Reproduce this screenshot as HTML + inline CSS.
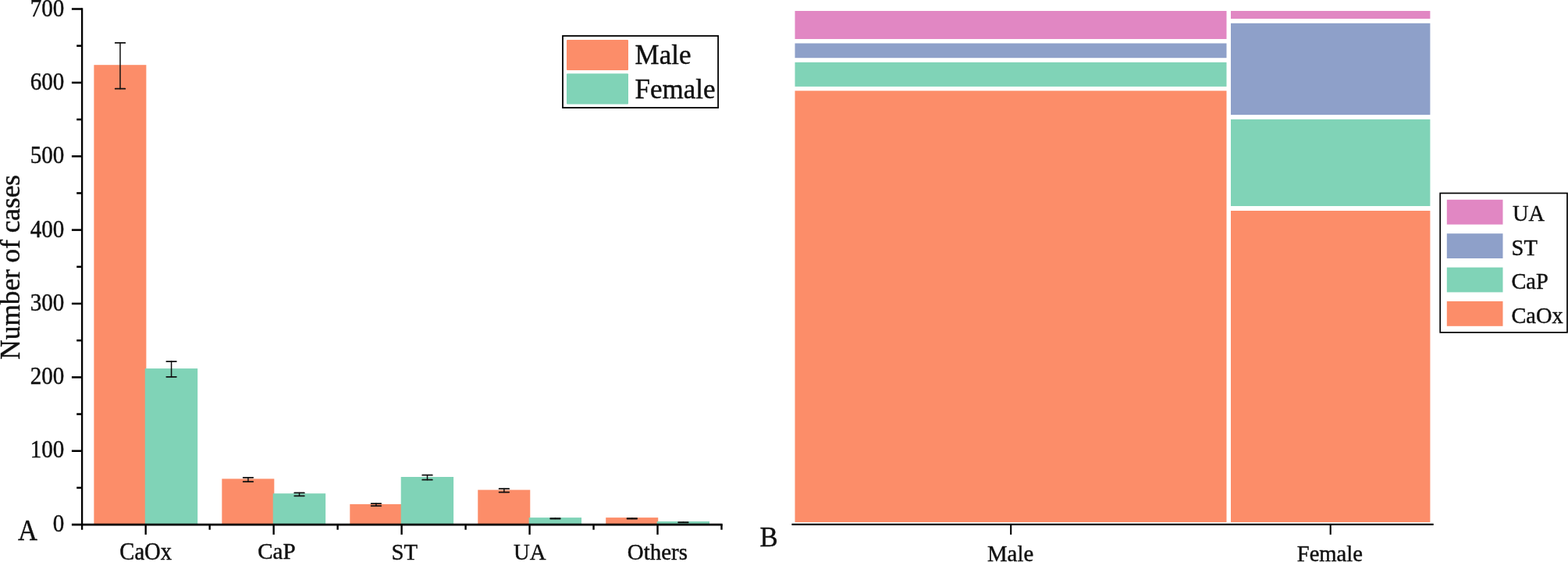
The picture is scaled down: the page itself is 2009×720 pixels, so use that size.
<!DOCTYPE html>
<html lang="en"><head><meta charset="utf-8"><title>Number of cases by stone type and sex</title>
<style>html,body{margin:0;padding:0;background:#fff;}body{width:2009px;height:720px;overflow:hidden;}svg{display:block;}text{font-family:"Liberation Serif", "Times New Roman", serif;fill:#111;}</style>
</head><body>
<svg width="2009" height="720" viewBox="0 0 2009 720">
<rect x="0" y="0" width="2009" height="720" fill="#fff"/>
<g shape-rendering="auto">
<rect x="120.38" y="83.20" width="67.00" height="588.90" fill="#FC8D69"/>
<rect x="185.78" y="472.10" width="67.40" height="200.00" fill="#80D3B7"/>
<rect x="284.34" y="613.40" width="67.00" height="58.70" fill="#FC8D69"/>
<rect x="349.74" y="632.20" width="67.40" height="39.90" fill="#80D3B7"/>
<rect x="448.30" y="645.90" width="67.00" height="26.20" fill="#FC8D69"/>
<rect x="513.70" y="611.00" width="67.40" height="61.10" fill="#80D3B7"/>
<rect x="612.26" y="627.60" width="67.00" height="44.50" fill="#FC8D69"/>
<rect x="677.66" y="663.10" width="67.40" height="9.00" fill="#80D3B7"/>
<rect x="776.22" y="663.10" width="67.00" height="9.00" fill="#FC8D69"/>
<rect x="841.62" y="668.00" width="67.40" height="4.10" fill="#80D3B7"/>
</g>
<g stroke="#111" stroke-width="1.9" stroke-linecap="round" fill="none">
<path stroke-width="1.75" d="M147.68 54.90H160.28M147.68 113.70H160.28"/><path stroke-width="1.5" d="M153.98 54.90V113.70"/>
<path stroke-width="1.75" d="M213.28 463.00H225.88M213.28 482.80H225.88"/><path stroke-width="1.5" d="M219.58 463.00V482.80"/>
<path stroke-width="1.75" d="M311.64 611.80H324.24M311.64 617.10H324.24"/><path stroke-width="1.5" d="M317.94 611.80V617.10"/>
<path stroke-width="1.75" d="M377.24 631.40H389.84M377.24 635.30H389.84"/><path stroke-width="1.5" d="M383.54 631.40V635.30"/>
<path stroke-width="1.75" d="M475.60 645.00H488.20M475.60 648.10H488.20"/><path stroke-width="1.5" d="M481.90 645.00V648.10"/>
<path stroke-width="1.75" d="M541.20 608.70H553.80M541.20 614.70H553.80"/><path stroke-width="1.5" d="M547.50 608.70V614.70"/>
<path stroke-width="1.75" d="M639.56 626.20H652.16M639.56 630.60H652.16"/><path stroke-width="1.5" d="M645.86 626.20V630.60"/>
<path stroke-width="1.75" d="M705.16 664.00H717.76M705.16 664.50H717.76"/><path stroke-width="1.5" d="M711.46 664.00V664.50"/>
<path stroke-width="1.75" d="M803.52 664.00H816.12M803.52 664.50H816.12"/><path stroke-width="1.5" d="M809.82 664.00V664.50"/>
<path stroke-width="1.75" d="M869.12 669.00H881.72M869.12 669.30H881.72"/><path stroke-width="1.5" d="M875.42 669.00V669.30"/>
</g>
<g stroke="#000" fill="none">
<path stroke-width="2.35" d="M105.10 10.23V678.70"/>
<path stroke-width="2.55" d="M91.90 672.10H925.68"/>
<path stroke-width="2.55" d="M91.90 577.73H105.10"/>
<path stroke-width="2.55" d="M91.90 483.36H105.10"/>
<path stroke-width="2.55" d="M91.90 388.99H105.10"/>
<path stroke-width="2.55" d="M91.90 294.62H105.10"/>
<path stroke-width="2.55" d="M91.90 200.25H105.10"/>
<path stroke-width="2.55" d="M91.90 105.88H105.10"/>
<path stroke-width="2.55" d="M91.90 11.51H105.10"/>
<path stroke-width="2.55" d="M98.20 624.91H105.10"/>
<path stroke-width="2.55" d="M98.20 530.55H105.10"/>
<path stroke-width="2.55" d="M98.20 436.18H105.10"/>
<path stroke-width="2.55" d="M98.20 341.81H105.10"/>
<path stroke-width="2.55" d="M98.20 247.44H105.10"/>
<path stroke-width="2.55" d="M98.20 153.06H105.10"/>
<path stroke-width="2.55" d="M98.20 58.69H105.10"/>
<path stroke-width="2.35" d="M186.68 672.10V684.90"/>
<path stroke-width="2.35" d="M268.66 672.10V678.70"/>
<path stroke-width="2.35" d="M350.64 672.10V684.90"/>
<path stroke-width="2.35" d="M432.62 672.10V678.70"/>
<path stroke-width="2.35" d="M514.60 672.10V684.90"/>
<path stroke-width="2.35" d="M596.58 672.10V678.70"/>
<path stroke-width="2.35" d="M678.56 672.10V684.90"/>
<path stroke-width="2.35" d="M760.54 672.10V678.70"/>
<path stroke-width="2.35" d="M842.52 672.10V684.90"/>
<path stroke-width="2.35" d="M924.50 672.10V678.70"/>
</g>
<text transform="translate(82.40 680.60) scale(0.9850 1.0500)" font-size="29.50px" text-anchor="end" stroke="#111" stroke-width="0.45" stroke-linejoin="round">0</text>
<text transform="translate(82.40 586.35) scale(0.9850 1.0500)" font-size="29.50px" text-anchor="end" stroke="#111" stroke-width="0.45" stroke-linejoin="round">100</text>
<text transform="translate(82.40 492.10) scale(0.9850 1.0500)" font-size="29.50px" text-anchor="end" stroke="#111" stroke-width="0.45" stroke-linejoin="round">200</text>
<text transform="translate(82.40 397.85) scale(0.9850 1.0500)" font-size="29.50px" text-anchor="end" stroke="#111" stroke-width="0.45" stroke-linejoin="round">300</text>
<text transform="translate(82.40 303.60) scale(0.9850 1.0500)" font-size="29.50px" text-anchor="end" stroke="#111" stroke-width="0.45" stroke-linejoin="round">400</text>
<text transform="translate(82.40 209.35) scale(0.9850 1.0500)" font-size="29.50px" text-anchor="end" stroke="#111" stroke-width="0.45" stroke-linejoin="round">500</text>
<text transform="translate(82.40 115.10) scale(0.9850 1.0500)" font-size="29.50px" text-anchor="end" stroke="#111" stroke-width="0.45" stroke-linejoin="round">600</text>
<text transform="translate(82.40 20.85) scale(0.9850 1.0500)" font-size="29.50px" text-anchor="end" stroke="#111" stroke-width="0.45" stroke-linejoin="round">700</text>
<text transform="translate(186.68 716.60) scale(0.9700 1.0400)" font-size="29.50px" text-anchor="middle" stroke="#111" stroke-width="0.45" stroke-linejoin="round">CaOx</text>
<text transform="translate(354.44 716.40) scale(0.9870 1.0000)" font-size="29.50px" text-anchor="middle" stroke="#111" stroke-width="0.45" stroke-linejoin="round">CaP</text>
<text transform="translate(518.30 716.80) scale(0.9750 1.0200)" font-size="29.50px" text-anchor="middle" stroke="#111" stroke-width="0.45" stroke-linejoin="round">ST</text>
<text transform="translate(678.76 716.80) scale(0.9750 1.0200)" font-size="29.50px" text-anchor="middle" stroke="#111" stroke-width="0.45" stroke-linejoin="round">UA</text>
<text transform="translate(842.42 716.90) scale(0.9820 1.0200)" font-size="29.50px" text-anchor="middle" stroke="#111" stroke-width="0.45" stroke-linejoin="round">Others</text>
<text transform="translate(25.00 342.30) rotate(-90) scale(1.0070 1.0000)" font-size="35.00px" text-anchor="middle" stroke="#111" stroke-width="0.45" stroke-linejoin="round">Number of cases</text>
<text transform="translate(23.00 691.50) scale(1.0000 1.0750)" font-size="34.60px" text-anchor="start" stroke="#111" stroke-width="0.45" stroke-linejoin="round">A</text>
<rect x="721.0" y="46.0" width="199.1" height="92.0" fill="#fff" stroke="#000" stroke-width="1.8"/>
<rect x="726" y="51" width="79" height="39" rx="1" fill="#FC8D69"/>
<rect x="726" y="94.3" width="79" height="39.1" rx="1" fill="#80D3B7"/>
<text transform="translate(813.60 82.10) scale(1.0050 1.0250)" font-size="34.80px" text-anchor="start" stroke="#111" stroke-width="0.45" stroke-linejoin="round">Male</text>
<text transform="translate(813.50 125.55) scale(1.0050 1.0250)" font-size="34.80px" text-anchor="start" stroke="#111" stroke-width="0.45" stroke-linejoin="round">Female</text>
<rect x="1018.50" y="14.00" width="553.00" height="36.00" fill="#E187C3"/>
<rect x="1018.50" y="55.50" width="553.00" height="18.70" fill="#8EA0C9"/>
<rect x="1018.50" y="79.80" width="553.00" height="31.10" fill="#80D3B7"/>
<rect x="1018.50" y="116.30" width="553.00" height="552.70" fill="#FC8D69"/>
<rect x="1577.00" y="14.00" width="255.40" height="10.00" fill="#E187C3"/>
<rect x="1577.00" y="29.80" width="255.40" height="117.30" fill="#8EA0C9"/>
<rect x="1577.00" y="152.90" width="255.40" height="111.10" fill="#80D3B7"/>
<rect x="1577.00" y="270.00" width="255.40" height="399.00" fill="#FC8D69"/>
<g stroke="#000" stroke-width="2.1" fill="none">
<path d="M1014.4 671.9H1836.7"/>
<path d="M1295.2 671.9V684.9"/>
<path d="M1704.7 671.9V684.9"/>
</g>
<text transform="translate(1294.60 719.20) scale(0.9750 1.0300)" font-size="29.50px" text-anchor="middle" stroke="#111" stroke-width="0.45" stroke-linejoin="round">Male</text>
<text transform="translate(1703.85 719.30) scale(0.9710 1.0200)" font-size="29.50px" text-anchor="middle" stroke="#111" stroke-width="0.45" stroke-linejoin="round">Female</text>
<text transform="translate(973.40 699.90)" font-size="34.76px" text-anchor="start" stroke="#111" stroke-width="0.45" stroke-linejoin="round">B</text>
<rect x="1845.2" y="247.5" width="162.8" height="178.4" fill="#fff" stroke="#000" stroke-width="1.7"/>
<rect x="1853.8" y="255.80" width="71.7" height="31.8" fill="#E187C3"/>
<text transform="translate(1938.00 283.10) scale(0.9650 0.9800)" font-size="29.50px" text-anchor="start" stroke="#111" stroke-width="0.45" stroke-linejoin="round">UA</text>
<rect x="1853.8" y="299.20" width="71.7" height="31.8" fill="#8EA0C9"/>
<text transform="translate(1936.60 326.60) scale(0.9650 1.0000)" font-size="29.50px" text-anchor="start" stroke="#111" stroke-width="0.45" stroke-linejoin="round">ST</text>
<rect x="1853.8" y="342.60" width="71.7" height="31.8" fill="#80D3B7"/>
<text transform="translate(1936.40 370.10) scale(0.9650 1.0000)" font-size="29.50px" text-anchor="start" stroke="#111" stroke-width="0.45" stroke-linejoin="round">CaP</text>
<rect x="1853.8" y="386.00" width="71.7" height="31.8" fill="#FC8D69"/>
<text transform="translate(1936.40 413.60) scale(0.9650 1.0200)" font-size="29.50px" text-anchor="start" stroke="#111" stroke-width="0.45" stroke-linejoin="round">CaOx</text>
</svg>
</body></html>
